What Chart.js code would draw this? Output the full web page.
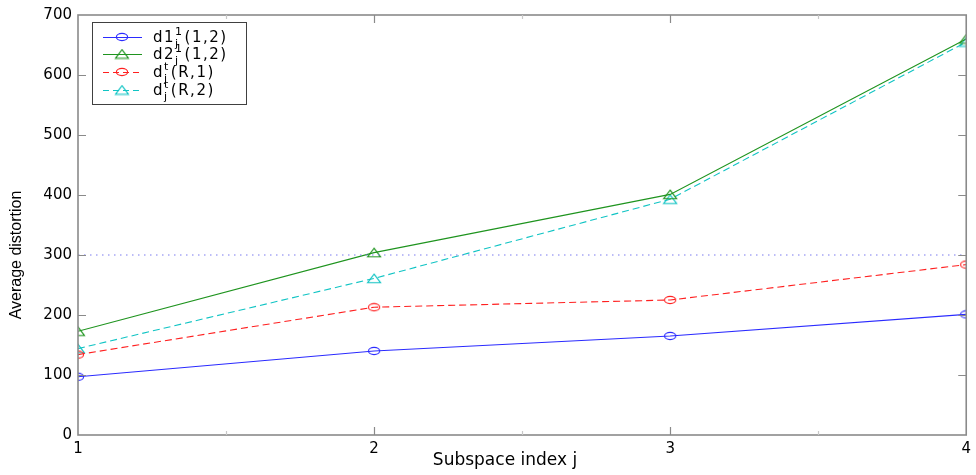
<!DOCTYPE html>
<html><head><meta charset="utf-8">
<style>html,body{margin:0;padding:0;background:#fff}#wrap{width:976px;height:475px;position:relative}</style>
<script src="https://cdn.jsdelivr.net/npm/chart.js@4/dist/chart.umd.min.js"></script>
</head><body><div id="wrap"><canvas id="c" width="976" height="475"></canvas></div>
<script>
// ---- data ----
const subspaceIndex = [1, 2, 3, 4];
const d1_12 = [97, 140, 165, 201];
const d2_12 = [173, 304, 401, 660];
const dt_R1 = [134, 213, 225, 284];
const dt_R2 = [144, 261, 393, 655];
const refLevel = [300, 300, 300, 300];
const yMin = 0, yMax = 700, yStep = 100;
const xTitle = 'Subspace index j';
const yTitle = 'Average distortion';

const COL = {blue:'#2b2bff', green:'#1f941f', red:'#ff2020', cyan:'#10c4c4', ref:'#7a7af0', axis:'#8a8a8a'};

function ellipseMarker(color){
  const c=document.createElement('canvas'); c.width=14; c.height=10;
  const g=c.getContext('2d'); g.strokeStyle=color; g.lineWidth=1.1;
  g.beginPath(); g.ellipse(7,5,5.6,3.6,0,0,Math.PI*2); g.stroke(); return c;
}
function triMarker(color){
  const c=document.createElement('canvas'); c.width=16; c.height=11;
  const g=c.getContext('2d'); g.strokeStyle=color; g.lineWidth=1.1;
  g.beginPath(); g.moveTo(8,1.2); g.lineTo(14.5,9.8); g.lineTo(1.5,9.8); g.closePath(); g.stroke(); return c;
}
const pts = arr => subspaceIndex.map((x,i)=>({x:x, y:arr[i]}));

const series = [
  {data:d1_12, color:COL.blue, marker:ellipseMarker(COL.blue), dash:[], main:'d1', sup:'1', sub:'j', tail:'(1,2)'},
  {data:d2_12, color:COL.green, marker:triMarker(COL.green), dash:[], main:'d2', sup:'1', sub:'j', tail:'(1,2)'},
  {data:dt_R1, color:COL.red, marker:ellipseMarker(COL.red), dash:[7,4], main:'d', sup:'t', sub:'j', tail:'(R,1)'},
  {data:dt_R2, color:COL.cyan, marker:triMarker(COL.cyan), dash:[7,4], main:'d', sup:'t', sub:'j', tail:'(R,2)'}
];

const datasets = series.map(s=>({
  label: s.main+s.sup+s.sub+s.tail,
  data: pts(s.data), borderColor:s.color, borderWidth:1.1, borderDash:s.dash,
  pointStyle:s.marker, pointRadius:6, pointHoverRadius:6, fill:false, tension:0
}));
datasets.unshift({label:'ref', data:pts(refLevel), borderColor:COL.ref, borderWidth:1.2, borderDash:[1.5,4.5], pointRadius:0, fill:false});

const framePlugin = {
  id:'frame',
  afterDatasetsDraw(chart){
    const {ctx, chartArea:a, scales:{x,y}} = chart;
    ctx.save();
    ctx.strokeStyle=COL.axis; ctx.lineWidth=1.6;
    ctx.strokeRect(a.left, a.top, a.right-a.left, a.bottom-a.top);
    ctx.lineWidth=1.2;
    ctx.beginPath();
    for(let v=yMin+yStep; v<yMax; v+=yStep){
      const py=Math.round(y.getPixelForValue(v))+0.5;
      ctx.moveTo(a.left,py); ctx.lineTo(a.left+8,py);
      ctx.moveTo(a.right,py); ctx.lineTo(a.right-8,py);
    }
    for(let v=2; v<=3; v++){
      const px=Math.round(x.getPixelForValue(v))+0.5;
      ctx.moveTo(px,a.bottom); ctx.lineTo(px,a.bottom-8);
      ctx.moveTo(px,a.top); ctx.lineTo(px,a.top+8);
    }
    ctx.stroke();
    ctx.strokeStyle='#c8c8c8'; ctx.beginPath();
    for(let v=1.5; v<4; v+=1){
      const px=Math.round(x.getPixelForValue(v))+0.5;
      ctx.moveTo(px,a.bottom); ctx.lineTo(px,a.bottom-4);
      ctx.moveTo(px,a.top); ctx.lineTo(px,a.top+4);
    }
    ctx.stroke();
    ctx.restore();
  },
  afterDraw(chart){
    const {ctx} = chart;
    ctx.save();
    ctx.fillStyle='#000'; ctx.textAlign='center'; ctx.textBaseline='middle';
    ctx.font='17px "DejaVu Sans"';
    ctx.fillText(xTitle, 505, 461);
    ctx.translate(17,255); ctx.rotate(-Math.PI/2);
    ctx.font='16px "Liberation Sans"';
    ctx.fillText(yTitle, 0, 0);
    ctx.restore();
    // legend
    ctx.save();
    ctx.fillStyle='#fff'; ctx.fillRect(92.5,22.5,154,82);
    ctx.strokeStyle='#404040'; ctx.lineWidth=1; ctx.strokeRect(92.5,22.5,154,82);
    const rows=[37,54,72,90];
    series.forEach((s,i)=>{
      const cy=rows[i];
      ctx.strokeStyle=s.color; ctx.lineWidth=1.1; ctx.setLineDash(s.dash.length?[6,4]:[]);
      ctx.beginPath(); ctx.moveTo(103,cy+0.5); ctx.lineTo(142,cy+0.5); ctx.stroke();
      ctx.setLineDash([]);
      ctx.drawImage(s.marker, 122-s.marker.width/2, cy-s.marker.height/2);
      ctx.fillStyle='#000'; ctx.textAlign='left'; ctx.textBaseline='alphabetic';
      if('letterSpacing' in ctx) ctx.letterSpacing='1.5px';
      ctx.font='15px "DejaVu Sans"';
      let tx=153; const base=cy+5;
      ctx.fillText(s.main, tx, base); tx+=ctx.measureText(s.main).width;
      ctx.font='11px "DejaVu Sans"';
      ctx.fillText(s.sup, tx, base-7); ctx.fillText(s.sub, tx, base+5);
      tx+=Math.max(ctx.measureText(s.sup).width, ctx.measureText(s.sub).width)+1;
      ctx.font='15px "DejaVu Sans"';
      ctx.fillText(s.tail, tx, base);
    });
    ctx.restore();
  }
};

new Chart(document.getElementById('c'), {
  type:'line',
  data:{datasets},
  options:{
    responsive:false, animation:false, devicePixelRatio:1,
    layout:{padding:{left:0,right:6,top:11,bottom:0}},
    plugins:{legend:{display:false}, tooltip:{enabled:false}},
    scales:{
      x:{type:'linear', min:1, max:4,
        ticks:{stepSize:1, color:'#000', font:{family:'DejaVu Sans', size:15}, padding:5, maxRotation:0},
        grid:{display:false, drawTicks:false}, border:{display:false},
        afterFit(s){ s.height=40; }
      },
      y:{min:yMin, max:yMax,
        ticks:{stepSize:yStep, color:'#000', font:{family:'DejaVu Sans', size:15}, padding:6},
        grid:{display:false, drawTicks:false}, border:{display:false},
        afterFit(s){ s.width=78; }
      }
    }
  },
  plugins:[framePlugin]
});
</script></body></html>
